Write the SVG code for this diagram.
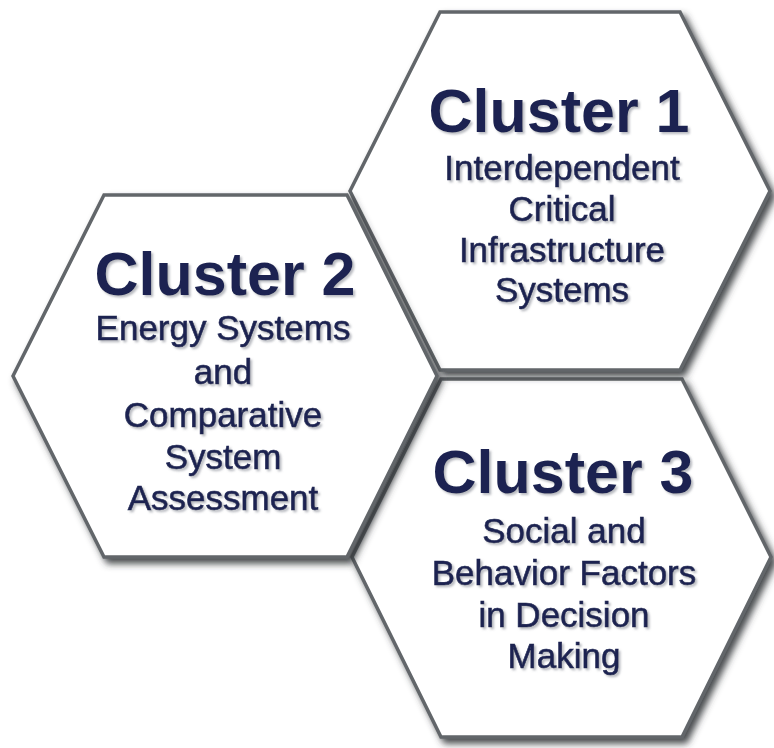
<svg xmlns="http://www.w3.org/2000/svg" width="774" height="748" viewBox="0 0 774 748">
  <defs>
    <!-- soft drop shadow for the hexagon tiles -->
    <filter id="hexShadow" x="-10%" y="-10%" width="125%" height="125%">
      <feDropShadow dx="4" dy="5" stdDeviation="3.5" flood-color="#34373b" flood-opacity="0.9"/>
    </filter>
    <!-- faint offset shadow under the lettering -->
    <filter id="textShadow" x="-5%" y="-20%" width="115%" height="150%">
      <feDropShadow dx="2" dy="2" stdDeviation="1.2" flood-color="#7d828c" flood-opacity="0.55"/>
    </filter>
  </defs>
  <style>
    .hex { fill: #ffffff; stroke: #62666a; stroke-width: 3.5; stroke-linejoin: miter; filter: url(#hexShadow); }
    .title { font-family: "Liberation Sans", Arial, sans-serif; font-weight: bold; font-size: 61px; fill: #1c2451; text-anchor: middle; }
    .body { font-family: "Liberation Sans", Arial, sans-serif; font-size: 35px; fill: #1c2451; stroke: #1c2451; stroke-width: 0.6; text-anchor: middle; }
    .label { filter: url(#textShadow); }
  </style>
  <rect width="774" height="748" fill="#ffffff"/>

  <!-- Cluster 3: lower right -->
  <g id="cluster3">
    <polygon class="hex" points="441,379 682,379 771,557 682,737 441,737 352,557"/>
    <g class="label">
      <text class="title" x="563" y="493">Cluster 3</text>
      <text class="body" x="564" y="543">Social and</text>
      <text class="body" x="564" y="585">Behavior Factors</text>
      <text class="body" x="564" y="627">in Decision</text>
      <text class="body" x="564" y="668">Making</text>
    </g>
  </g>

  <!-- Cluster 1: upper right -->
  <g id="cluster1">
    <polygon class="hex" points="440,12 680,12 770,191 680,370 440,370 350,191"/>
    <g class="label">
      <text class="title" x="559" y="132">Cluster 1</text>
      <text class="body" x="562" y="180">Interdependent</text>
      <text class="body" x="562" y="221">Critical</text>
      <text class="body" x="562" y="262">Infrastructure</text>
      <text class="body" x="562" y="302">Systems</text>
    </g>
  </g>

  <!-- Cluster 2: left -->
  <g id="cluster2">
    <polygon class="hex" points="104,195 347,195 437,376 347,557 104,557 13,376"/>
    <g class="label">
      <text class="title" x="225" y="295">Cluster 2</text>
      <text class="body" x="223" y="340">Energy Systems</text>
      <text class="body" x="223" y="384">and</text>
      <text class="body" x="223" y="427">Comparative</text>
      <text class="body" x="223" y="469">System</text>
      <text class="body" x="223" y="510">Assessment</text>
    </g>
  </g>
</svg>
